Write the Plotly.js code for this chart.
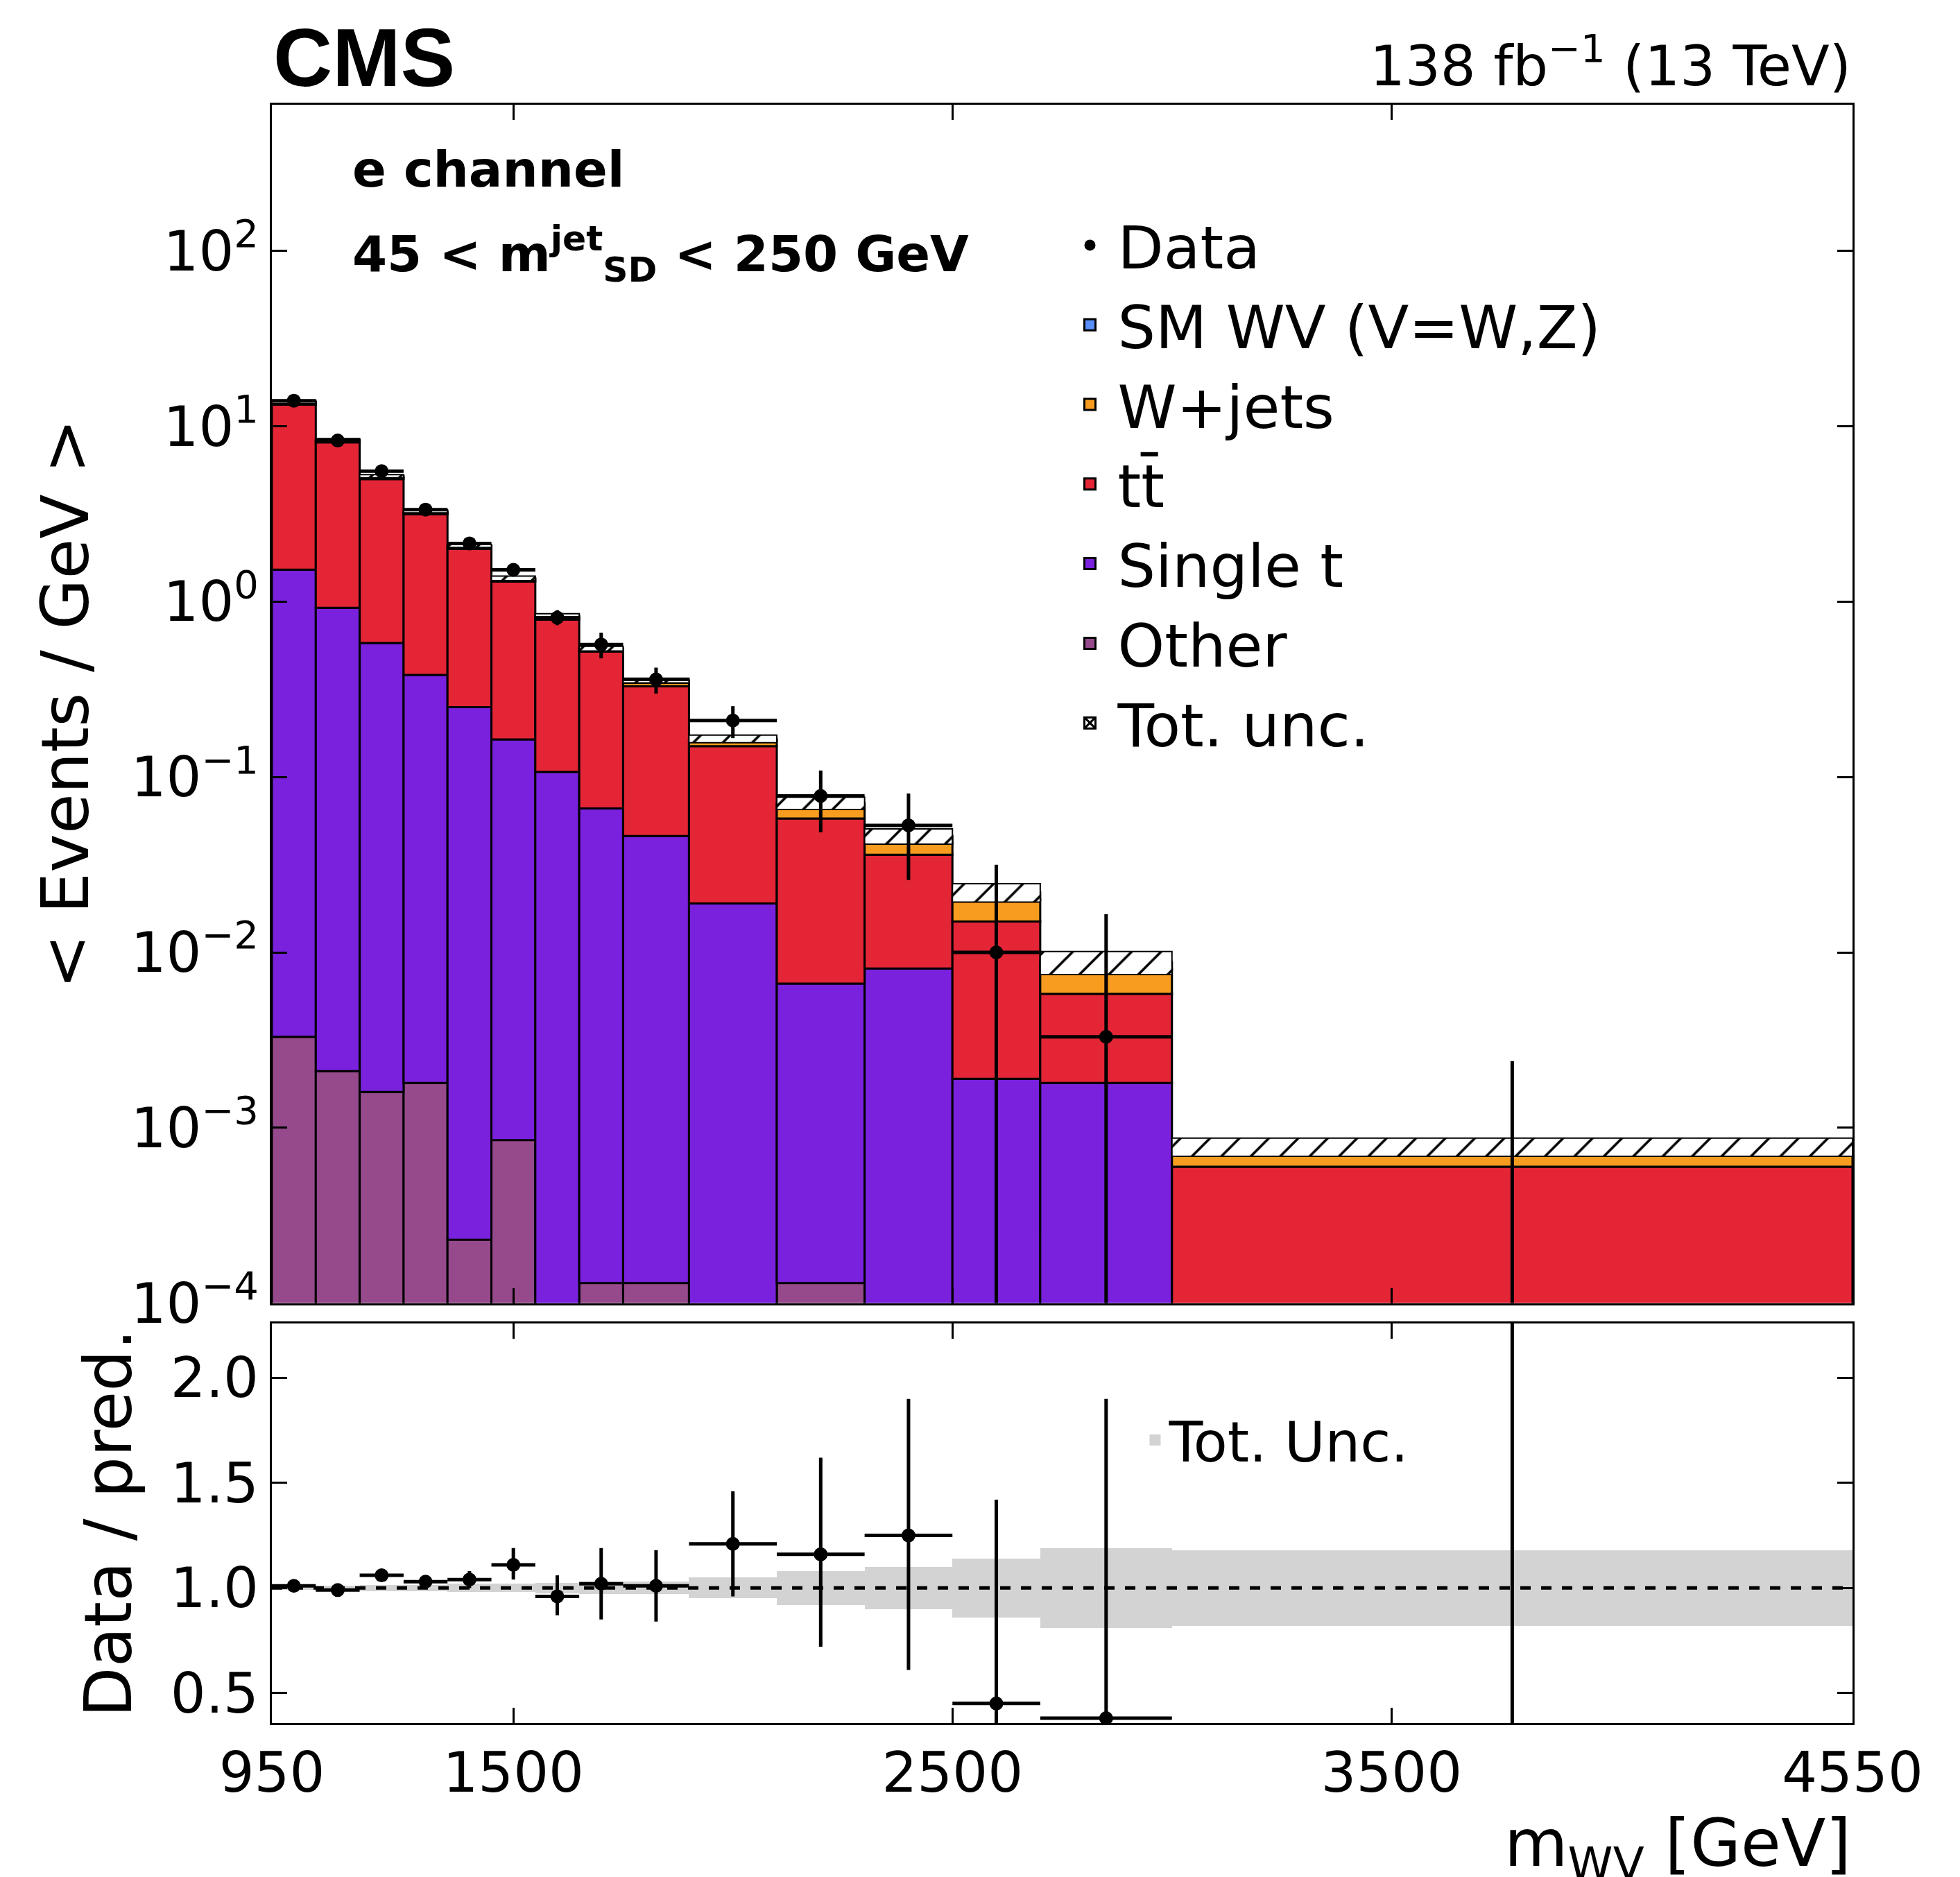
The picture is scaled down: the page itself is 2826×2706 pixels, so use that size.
<!DOCTYPE html>
<html>
<head>
<meta charset="utf-8">
<script src="https://cdn.plot.ly/plotly-3.0.1.min.js"></script>
<style>body{margin:0;background:#fff}#chart{width:2826px;height:2706px}</style>
</head>
<body>
<div id="chart"></div>
<script>
// bin edges in GeV
var edges = [950,1050,1150,1250,1350,1450,1550,1650,1750,1900,2100,2300,2500,2700,3000,4550]

// stack components, < events / GeV >
var other   = [0.0033,0.0021,0.0016,0.0018,0.00023,0.00085,0,0.00013,0.00013,0,0.00013,0,0,0,0]
var singleT = [1.52,0.92,0.58,0.38,0.25,0.163,0.107,0.066,0.046,0.019,0.0065,0.0081,0.0019,0.0018,0]
var ttbarTop= [13.3,8.1,5.0,3.15,2.0,1.3,0.79,0.52,0.33,0.15,0.058,0.036,0.015,0.0058,0.0006]
var wjetsTop= [13.6,8.25,5.1,3.22,2.05,1.34,0.81,0.535,0.345,0.160,0.066,0.042,0.020,0.0080,0.00072]
var total   = [13.8,8.35,5.2,3.28,2.08,1.36,0.83,0.54,0.355,0.165,0.071,0.046,0.022,0.0088,0.00078]
var totUnc  = [0.02,0.02,0.02,0.02,0.02,0.03,0.03,0.03,0.03,0.05,0.08,0.10,0.12,0.15,0.12]

// data
var dataY   = [14.0,8.3,5.55,3.35,2.15,1.52,0.81,0.57,0.36,0.21,0.078,0.053,0.0100,0.0033,0]
var ratio   = [1.01,0.99,1.06,1.03,1.04,1.11,0.96,1.02,1.01,1.21,1.16,1.25,0.45,0.38,null]
var ratioLo = [0.01,0.015,0.02,0.03,0.04,0.07,0.09,0.17,0.17,0.25,0.44,0.64,0.45,0.38,0]
var ratioHi = [0.01,0.015,0.02,0.03,0.04,0.08,0.1,0.17,0.17,0.25,0.46,0.65,0.97,1.52,0]
var bandUnc = [0.01,0.01,0.015,0.015,0.02,0.02,0.025,0.03,0.03,0.05,0.08,0.1,0.14,0.19,0.18]
var emptyBinUp = 0.0024

var centers = [], widths = [], halfw = []
for (var i=0;i<edges.length-1;i++) {
    centers.push((edges[i]+edges[i+1])/2)
    widths.push(edges[i+1]-edges[i])
    halfw.push((edges[i+1]-edges[i])/2)
}

var base1 = [], base2 = [], ttY = [], wjY = [], smY = [], hatchBase = [], hatchY = [], bandBase = [], bandY = []
for (var i=0;i<centers.length;i++) {
    base1.push(other[i] > 0 ? other[i] : 1e-6)
    base2.push(other[i]+singleT[i] > 0 ? other[i]+singleT[i] : 1e-6)
    ttY.push(ttbarTop[i]-base2[i])
    wjY.push(wjetsTop[i]-ttbarTop[i])
    smY.push(total[i]-wjetsTop[i])
    hatchBase.push(total[i]*(1-totUnc[i]))
    hatchY.push(2*total[i]*totUnc[i])
    bandBase.push(1-bandUnc[i])
    bandY.push(2*bandUnc[i])
}
var dataLo = [], dataHi = []
for (var i=0;i<centers.length;i++) {
    dataLo.push(ratio[i]==null ? 0 : dataY[i]*ratioLo[i]/ratio[i])
    dataHi.push(ratio[i]==null ? 0 : dataY[i]*ratioHi[i]/ratio[i])
}

var line = {color:'black', width:3}
var traces = [
    {type:'bar', x:centers, y:other.map(function(v){return v>0?v:null}), base:1e-6, width:widths,
     marker:{color:'#964a8b', line:line}, showlegend:false},
    {type:'bar', x:centers, y:singleT.map(function(v){return v>0?v:null}), base:base1, width:widths,
     marker:{color:'#7a21dd', line:line}, showlegend:false},
    {type:'bar', x:centers, y:ttY, base:base2, width:widths,
     marker:{color:'#e42536', line:line}, showlegend:false},
    {type:'bar', x:centers, y:wjY, base:ttbarTop, width:widths,
     marker:{color:'#f89c20', line:line}, showlegend:false},
    {type:'bar', x:centers, y:smY, base:wjetsTop, width:widths,
     marker:{color:'#5790fc', line:line}, showlegend:false},
    {type:'bar', x:centers, y:hatchY, base:hatchBase, width:widths,
     marker:{color:'rgba(255,255,255,0)', line:{color:'black',width:2},
             pattern:{shape:'/', fgcolor:'black', bgcolor:'white', size:30, solidity:0.12}}, showlegend:false},
    {type:'scatter', mode:'markers', x:centers.slice(0,14), y:dataY.slice(0,14), showlegend:false,
     marker:{color:'black', size:20},
     error_x:{type:'data', array:halfw, color:'black', thickness:5, width:0},
     error_y:{type:'data', array:dataHi, arrayminus:dataLo, symmetric:false, color:'black', thickness:5, width:0}},
    {type:'scatter', mode:'lines', x:[centers[14],centers[14]], y:[1e-5, emptyBinUp],
     line:{color:'black', width:5}, showlegend:false},
    // legend entries
    {type:'scatter', mode:'markers', name:'Data', x:[null], y:[null], marker:{color:'black', size:22, symbol:'circle'}},
    {type:'scatter', mode:'markers', name:'SM WV (V=W,Z)', x:[null], y:[null], marker:{symbol:'square', size:62, color:'#5790fc', line:line}},
    {type:'scatter', mode:'markers', name:'W+jets', x:[null], y:[null], marker:{symbol:'square', size:62, color:'#f89c20', line:line}},
    {type:'scatter', mode:'markers', name:'tt\u0304', x:[null], y:[null], marker:{symbol:'square', size:62, color:'#e42536', line:line}},
    {type:'scatter', mode:'markers', name:'Single t', x:[null], y:[null], marker:{symbol:'square', size:62, color:'#7a21dd', line:line}},
    {type:'scatter', mode:'markers', name:'Other', x:[null], y:[null], marker:{symbol:'square', size:62, color:'#964a8b', line:line}},
    {type:'scatter', mode:'markers', name:'Tot. unc.', x:[null], y:[null], marker:{symbol:'square-x-open', size:62, color:'black', line:{width:3}}},
    // ratio panel
    {type:'bar', x:centers, y:bandY, base:bandBase, width:widths, xaxis:'x2', yaxis:'y2',
     marker:{color:'#d3d3d3', line:{width:0}}, showlegend:false},
    {type:'scatter', mode:'markers', name:'Tot. Unc.', x:[null], y:[null], xaxis:'x2', yaxis:'y2',
     marker:{symbol:'square', size:58, color:'#d3d3d3'}, legend:'legend2'},
    {type:'scatter', mode:'markers', x:centers.slice(0,14), y:ratio.slice(0,14), xaxis:'x2', yaxis:'y2',
     marker:{color:'black', size:20}, showlegend:false,
     error_x:{type:'data', array:halfw, color:'black', thickness:5, width:0},
     error_y:{type:'data', array:ratioHi, arrayminus:ratioLo, symmetric:false, color:'black', thickness:5, width:0}},
    {type:'scatter', mode:'lines', x:[centers[14],centers[14]], y:[0, 3], xaxis:'x2', yaxis:'y2',
     line:{color:'black', width:5}, showlegend:false}
]

var axisCommon = {showline:true, linecolor:'black', linewidth:3, mirror:'ticks', ticks:'inside',
    ticklen:22, tickwidth:3, tickcolor:'black', showgrid:false, zeroline:false,
    tickfont:{size:80, color:'black'}}

var layout = {
    width:2826, height:2706,
    paper_bgcolor:'white', plot_bgcolor:'white',
    font:{family:'DejaVu Sans', color:'black'},
    barmode:'overlay', bargap:0,
    margin:{l:392, r:155, t:151, b:222},
    xaxis:Object.assign({}, axisCommon, {range:[950,4550], domain:[0,1], anchor:'y', showticklabels:false,
        tickvals:[1500,2500,3500]}),
    yaxis:Object.assign({}, axisCommon, {type:'log', range:[-4,2.834], domain:[0.2595,1], anchor:'x',
        tickvals:[1e-4,1e-3,1e-2,1e-1,1,10,100],
        ticktext:['10<sup>\u22124</sup>','10<sup>\u22123</sup>','10<sup>\u22122</sup>','10<sup>\u22121</sup>','10<sup>0</sup>','10<sup>1</sup>','10<sup>2</sup>'],
        title:{text:'< Events / GeV >', font:{size:94}, standoff:30}}),
    xaxis2:Object.assign({}, axisCommon, {range:[950,4550], domain:[0,1], anchor:'y2',
        tickvals:[950,1500,2500,3500,4550], matches:'x'}),
    yaxis2:Object.assign({}, axisCommon, {range:[0.357,2.26], domain:[0,0.247], anchor:'x2',
        tickvals:[0.5,1.0,1.5,2.0], ticktext:['0.5','1.0','1.5','2.0'],
        title:{text:'Data / pred.', font:{size:94}, standoff:25}}),
    legend:{x:0.5, y:0.94, xanchor:'left', yanchor:'top', font:{size:86}, bgcolor:'rgba(0,0,0,0)',
        traceorder:'normal', itemwidth:70, tracegroupgap:0, itemsizing:'trace'},
    legend2:{x:0.55, y:0.2, xanchor:'left', yanchor:'top', font:{size:80}, bgcolor:'rgba(0,0,0,0)', itemsizing:'trace'},
    shapes:[{type:'line', xref:'x2', yref:'y2', x0:950, x1:4550, y0:1, y1:1,
        line:{color:'black', width:5, dash:'dash'}}],
    annotations:[
        {text:'<b>CMS</b>', xref:'paper', yref:'paper', x:0, y:1.0, xanchor:'left', yanchor:'bottom',
         showarrow:false, font:{size:118, family:'Liberation Sans'}},
        {text:'138 fb<sup>\u22121</sup> (13 TeV)', xref:'paper', yref:'paper', x:1, y:1.003, xanchor:'right', yanchor:'bottom',
         showarrow:false, font:{size:80}},
        {text:'<b>e channel</b>', xref:'paper', yref:'paper', x:0.05, y:0.96, xanchor:'left', yanchor:'middle',
         showarrow:false, font:{size:72}},
        {text:'<b>45 < m<sup>jet</sup><sub>SD</sub> < 250 GeV</b>', xref:'paper', yref:'paper', x:0.05, y:0.908, xanchor:'left', yanchor:'middle',
         showarrow:false, font:{size:72}},
        {text:'m<sub>WV</sub> [GeV]', xref:'paper', yref:'paper', x:1, y:-0.05, xanchor:'right', yanchor:'top',
         showarrow:false, font:{size:94}}
    ]
}

Plotly.newPlot('chart', traces, layout, {displayModeBar:false, staticPlot:true})
</script>
</body>
</html>
